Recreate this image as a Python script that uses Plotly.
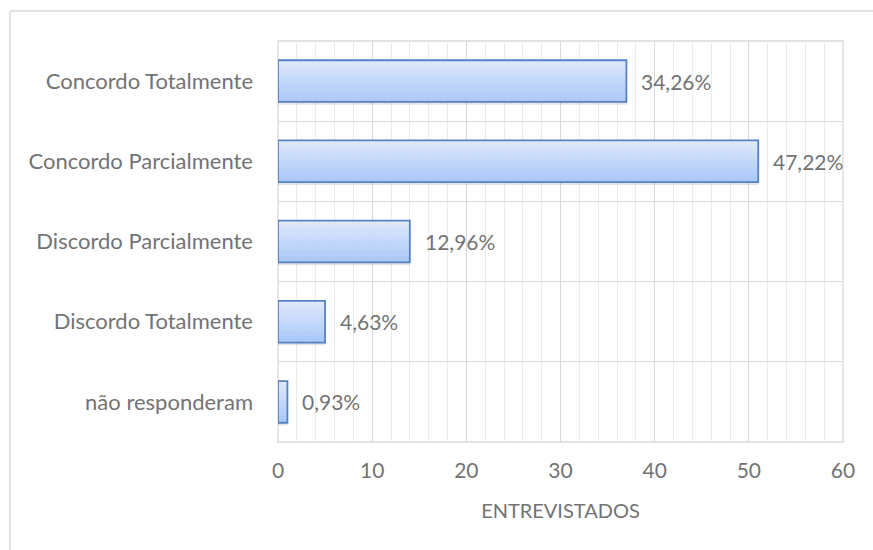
import plotly.graph_objects as go

# Survey answers (n = 108 respondents)
categories = [
    "Concordo Totalmente",
    "Concordo Parcialmente",
    "Discordo Parcialmente",
    "Discordo Totalmente",
    "não responderam",
]
counts = [37, 51, 14, 5, 1]
total = sum(counts)
x_ticks = [0, 10, 20, 30, 40, 50, 60]
x_title = "ENTREVISTADOS"

# Page geometry
W, H = 873, 550
M_L, M_R, M_T, M_B = 278, 30, 41, 108
PLOT_W = W - M_L - M_R
PLOT_H = H - M_T - M_B

FONT = "Lato"
TEXT_COLOR = "#737373"
GRID = "#d9d9d9"
BAR_W = 0.52
N_STRIPES = 24
TOP_RGB = (222, 233, 252)
BOT_RGB = (168, 198, 248)
EDGE = "#5682c4"

n = len(categories)
ypos = [n - 1 - i for i in range(n)]  # first category on top
labels = [f"{c / total * 100:.2f}%".replace(".", ",") for c in counts]

fig = go.Figure()

# soft drop shadow under each bar
fig.add_trace(go.Bar(
    x=counts, y=ypos, orientation="h", width=BAR_W, offset=-BAR_W / 2 - 0.035,
    marker=dict(color="rgba(0,0,0,0.10)", line=dict(width=0)),
    hoverinfo="skip", showlegend=False,
))

# vertical gradient fill built from thin stacked stripes
step = BAR_W / N_STRIPES
for k in range(N_STRIPES):
    t = k / (N_STRIPES - 1)
    rgb = tuple(round(BOT_RGB[j] + (TOP_RGB[j] - BOT_RGB[j]) * t) for j in range(3))
    fig.add_trace(go.Bar(
        x=counts, y=ypos, orientation="h",
        width=step * 1.15, offset=-BAR_W / 2 + k * step,
        marker=dict(color=f"rgb{rgb}", line=dict(width=0)),
        hoverinfo="skip", showlegend=False,
    ))

# bar outline
fig.add_trace(go.Bar(
    x=counts, y=ypos, orientation="h", width=BAR_W, offset=-BAR_W / 2,
    marker=dict(color="rgba(0,0,0,0)", line=dict(color=EDGE, width=1.8)),
    showlegend=False,
))

# value labels beside the bars
for xv, yv, lab in zip(counts, ypos, labels):
    fig.add_annotation(
        x=xv, y=yv, text=lab, showarrow=False, xanchor="left", yanchor="middle",
        xshift=13, font=dict(family=FONT, size=21, color=TEXT_COLOR),
    )

# plot-area frame
fig.add_shape(type="rect", xref="paper", yref="paper", x0=0, x1=1, y0=0, y1=1,
              line=dict(color=GRID, width=1.3), layer="below")

# outer chart frame (top and left edges visible)
fx0 = (10 - M_L) / PLOT_W
fy0 = (H - 11 - M_B) / PLOT_H
fig.add_shape(type="line", xref="paper", yref="paper", x0=fx0, x1=(W + 5 - M_L) / PLOT_W,
              y0=fy0, y1=fy0, line=dict(color=GRID, width=1.5))
fig.add_shape(type="line", xref="paper", yref="paper", x0=fx0, x1=fx0,
              y0=fy0, y1=(-5 - M_B) / PLOT_H, line=dict(color=GRID, width=1.5))

fig.update_layout(
    width=W, height=H,
    margin=dict(l=M_L, r=M_R, t=M_T, b=M_B),
    paper_bgcolor="white", plot_bgcolor="white",
    barmode="overlay",
    font=dict(family=FONT, color=TEXT_COLOR),
    xaxis=dict(
        range=[0, 60], tickvals=x_ticks, showgrid=True, gridcolor=GRID, gridwidth=1.3,
        zeroline=False, showline=False,
        minor=dict(dtick=2, showgrid=True, gridcolor="#ebebeb", gridwidth=1),
        tickfont=dict(family=FONT, size=21, color=TEXT_COLOR),
        ticklabelstandoff=14,
        title=dict(text=x_title, font=dict(family=FONT, size=20, color=TEXT_COLOR), standoff=22),
        fixedrange=True,
    ),
    yaxis=dict(
        range=[-0.5, n - 0.5], tickvals=ypos, ticktext=categories,
        showgrid=False, zeroline=False, showline=False,
        minor=dict(tickvals=[i - 0.5 for i in range(n + 1)], showgrid=True,
                   gridcolor=GRID, gridwidth=1.3),
        tickfont=dict(family=FONT, size=22, color=TEXT_COLOR),
        ticklabelstandoff=24,
        fixedrange=True,
    ),
)

fig.write_html("out.html")
